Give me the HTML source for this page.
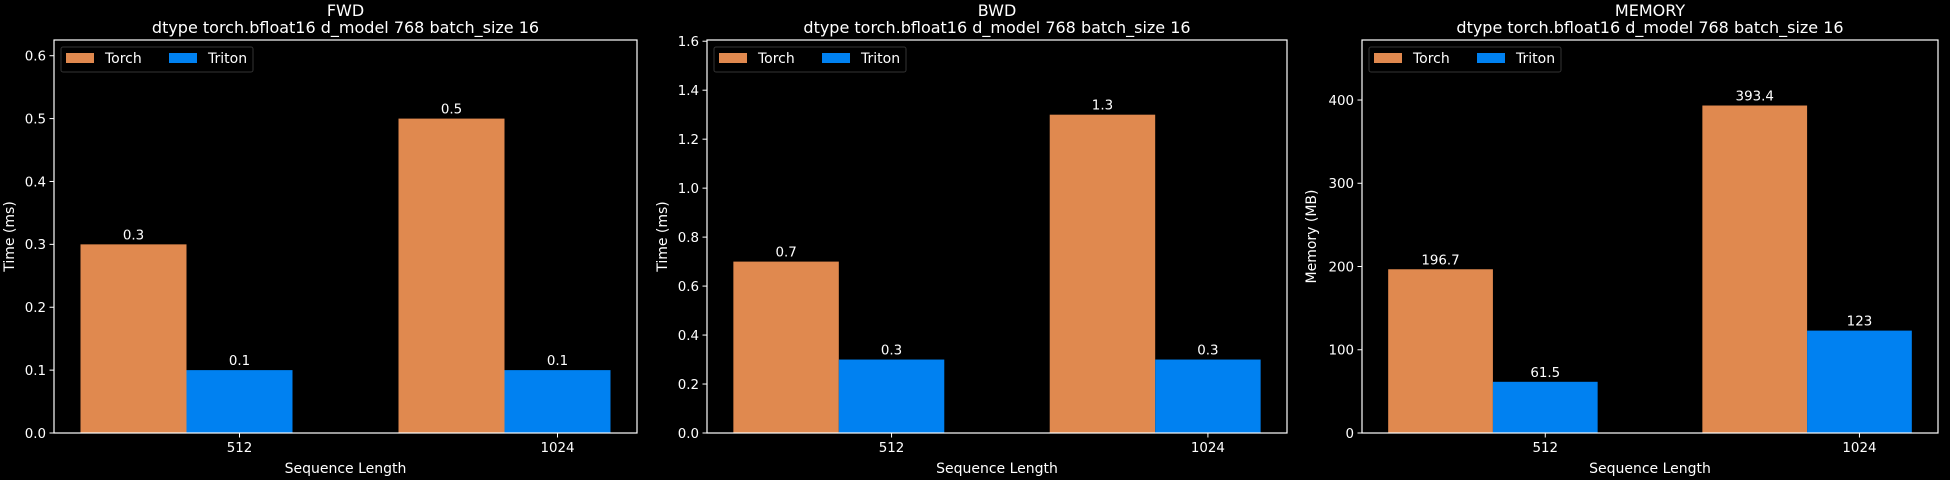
<!DOCTYPE html>
<html><head><meta charset="utf-8">
<style>
html,body{margin:0;padding:0;background:#000;}
svg{display:block;font-family:"DejaVu Sans","Liberation Sans",sans-serif;}
</style></head>
<body>
<svg id="fig" width="1950" height="480" viewBox="0 0 1950 480" xmlns="http://www.w3.org/2000/svg">
<rect width="1950" height="480" fill="#000"/>
</svg>
<script>
const categories = ["512", "1024"];
const seriesNames = ["Torch", "Triton"];
const fwdTorch = [0.3, 0.5];
const fwdTriton = [0.1, 0.1];
const bwdTorch = [0.7, 1.3];
const bwdTriton = [0.3, 0.3];
const memTorch = [196.7, 393.4];
const memTriton = [61.5, 123];
const fwdTicks = [0.0, 0.1, 0.2, 0.3, 0.4, 0.5, 0.6];
const bwdTicks = [0.0, 0.2, 0.4, 0.6, 0.8, 1.0, 1.2, 1.4, 1.6];
const memTicks = [0, 100, 200, 300, 400];
const fwdLabels = ["0.3", "0.5", "0.1", "0.1"];
const bwdLabels = ["0.7", "1.3", "0.3", "0.3"];
const memLabels = ["196.7", "393.4", "61.5", "123"];

const colors = ["#E0894F", "#0081F1"];
const NS = "http://www.w3.org/2000/svg";
const svg = document.getElementById("fig");
function mk(tag, attrs, parent) {
  const e = document.createElementNS(NS, tag);
  for (const k in attrs) e.setAttribute(k, attrs[k]);
  (parent || svg).appendChild(e);
  return e;
}
const panels = [
  {key:"fwd", title:"FWD", ylabel:"Time (ms)", left:54, right:637, yoff:45, ymax:0.625, torch:fwdTorch, triton:fwdTriton, ticks:fwdTicks, labels:fwdLabels, fmt:v=>v.toFixed(1)},
  {key:"bwd", title:"BWD", ylabel:"Time (ms)", left:707, right:1287, yoff:45, ymax:1.605, torch:bwdTorch, triton:bwdTriton, ticks:bwdTicks, labels:bwdLabels, fmt:v=>v.toFixed(1)},
  {key:"memory", title:"MEMORY", ylabel:"Memory (MB)", left:1362, right:1938, yoff:51, ymax:472.1, torch:memTorch, triton:memTriton, ticks:memTicks, labels:memLabels, fmt:v=>String(v)}
];
const axTop = 40, axBottom = 433;
const w = 1/3;
const pad = 0.05 * (1 + 2 * w);
const xmin = -w - pad, xmax = 1 + w + pad;
panels.forEach(p => {
  const g = mk("g", {});
  
  
  const xs = v => p.left + (v - xmin) / (xmax - xmin) * (p.right - p.left);
  const ys = v => axBottom - v / p.ymax * (axBottom - axTop);
  const cx = (p.left + p.right) / 2;
  const t1 = mk("text", {x:cx, y:16, "text-anchor":"middle", fill:"#fff", "font-size":"16"}, g);
  t1.textContent = p.title;
  
  
  const t2 = mk("text", {x:cx, y:33, "text-anchor":"middle", fill:"#fff", "font-size":"16"}, g);
  t2.textContent = "dtype torch.bfloat16 d_model 768 batch_size 16";
  
  
  const series = [p.torch, p.triton];
  series.forEach((vals, si) => {
    vals.forEach((v, ci) => {
      const x0 = ci + (si === 0 ? -w : 0);
      const r = mk("rect", {x:xs(x0), y:ys(v), width:xs(x0 + w) - xs(x0), height:ys(0) - ys(v), fill:colors[si]}, g);
      
      
      const lt = mk("text", {x:xs(x0 + w/2), y:ys(v) - 5, "text-anchor":"middle", fill:"#fff", "font-size":"13.4"}, g);
      lt.textContent = p.labels[si * 2 + ci];
      
      
    });
  });
  const fr = mk("rect", {x:p.left, y:axTop, width:p.right - p.left, height:axBottom - axTop, fill:"none", stroke:"#fff", "stroke-width":"1.2"}, g);
  
  
  p.ticks.forEach(tv => {
    const y = ys(tv);
    mk("line", {x1:p.left - 4.5, x2:p.left, y1:y, y2:y, stroke:"#fff", "stroke-width":"1"}, g);
    const tl = mk("text", {x:p.left - 8, y:y + 4.8, "text-anchor":"end", fill:"#fff", "font-size":"13.4"}, g);
    tl.textContent = p.fmt(tv);
    
    
  });
  categories.forEach((c, ci) => {
    const x = xs(ci + w / 2);
    mk("line", {x1:x, x2:x, y1:axBottom, y2:axBottom + 4.5, stroke:"#fff", "stroke-width":"1"}, g);
    const tl = mk("text", {x:x, y:axBottom + 19, "text-anchor":"middle", fill:"#fff", "font-size":"13.4"}, g);
    tl.textContent = c;
    
    
  });
  const xl = mk("text", {x:cx, y:473, "text-anchor":"middle", fill:"#fff", "font-size":"14"}, g);
  xl.textContent = "Sequence Length";
  
  
  const yy = (axTop + axBottom) / 2;
  const ylx = p.left - p.yoff + 5;
  const yl = mk("text", {x:ylx, y:yy, "text-anchor":"middle", fill:"#fff", "font-size":"14", transform:"rotate(-90 " + ylx + " " + yy + ")"}, g);
  yl.textContent = p.ylabel;
  
  
  const lg = mk("g", {}, g);
  
  
  const lx = p.left + 7;
  mk("rect", {x:lx, y:47, width:192, height:25, rx:2, fill:"#000", stroke:"#333", "stroke-width":"1"}, lg);
  seriesNames.forEach((n, si) => {
    const ox = lx + 5 + si * 103;
    const sw = mk("rect", {x:ox, y:53, width:28, height:10, fill:colors[si]}, lg);
    
    
    const tx = mk("text", {x:ox + 39, y:63, fill:"#fff", "font-size":"14"}, lg);
    tx.textContent = n;
    
    
  });
});
</script>
</body></html>
